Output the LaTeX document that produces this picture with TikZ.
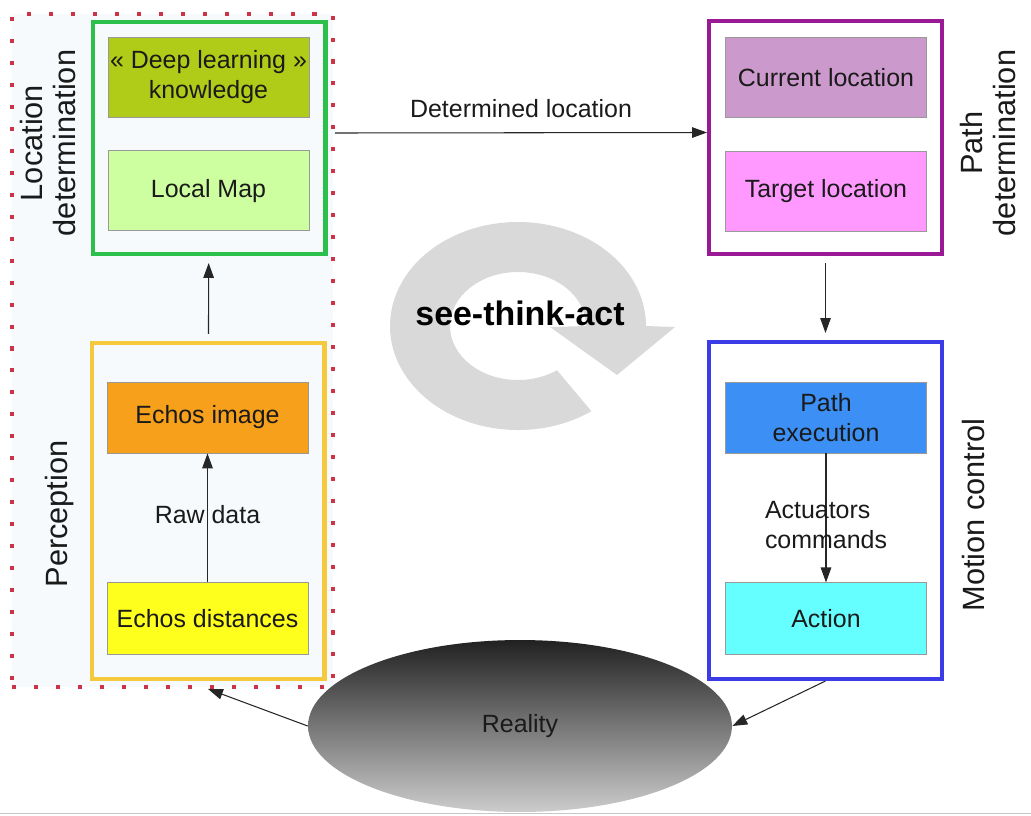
\documentclass[tikz,border=0pt]{standalone}
\usepackage{fontspec}
\setmainfont{Liberation Sans}
\usepackage{xcolor}
\usepackage{tikz}
\usetikzlibrary{arrows.meta,positioning,shapes.geometric}
\definecolor{stcDotRed}{HTML}{CC3347}
\definecolor{stcGroup}{HTML}{F6FAFD}
\definecolor{stcGreen}{HTML}{2BBF4B}
\definecolor{stcYellow}{HTML}{F5C93E}
\definecolor{stcPurple}{HTML}{991A94}
\definecolor{stcBlue}{HTML}{3C3CE6}
\definecolor{stcLime}{HTML}{B0CC18}
\definecolor{stcMint}{HTML}{CDFFA0}
\definecolor{stcMauve}{HTML}{CC99CC}
\definecolor{stcPink}{HTML}{FF99FF}
\definecolor{stcOrange}{HTML}{F7A01C}
\definecolor{stcLemon}{HTML}{FFFF1E}
\definecolor{stcSky}{HTML}{3B8FF5}
\definecolor{stcCyan}{HTML}{66FFFF}
\definecolor{stcRing}{HTML}{D9D9D9}
\definecolor{stcInk}{HTML}{1A1A1A}
\newcommand{\boxFont}{\fontsize{14.2}{17}\selectfont}
\newcommand{\sideFont}{\fontsize{17.5}{18.5}\selectfont}

\begin{document}
\begin{tikzpicture}[
  x=0.02cm, y=-0.02cm,
  every node/.style={text=stcInk},
  frame/.style={draw, line width=2.3pt, inner sep=0pt, minimum width=4.66cm},
  box/.style={draw=black!40, line width=0.5pt, inner sep=0pt,
              minimum width=4.02cm, align=center, font=\boxFont},
  lbl/.style={font=\boxFont, align=center},
  sideLbl/.style={rotate=90, align=center, font=\sideFont},
  flow/.style={draw=black!85, line width=0.6pt,
               -{Triangle[length=8.5pt,width=6pt]}},
]
\useasboundingbox (0,0) rectangle (1031,815);
\draw[black!22, line width=1pt] (0,813.5) -- (1031,813.5);

% see / think group
\node[draw=stcDotRed, fill=stcGroup, line width=2.3pt, line cap=butt,
      dash pattern=on 2.3pt off 10.2pt,
      minimum width=6.42cm, minimum height=13.46cm] (seeGroup) at (172.5,350.5) {};

% cycle arrow
\coordinate (cycleC) at (518,326);
\fill[stcRing] (cycleC) ++(55:128 and 104)
  arc[start angle=55, end angle=360, x radius=128, y radius=104]
  -- (675,327) -- (617,375) -- (550,327) -- (586,326)
  arc[start angle=360, end angle=55, x radius=68, y radius=54] -- cycle;
\node[font=\fontsize{19.3}{21}\selectfont\bfseries, text=black] (cycleLbl) at (520,313) {see-think-act};

% frames
\node[frame, draw=stcGreen, fill=stcGroup, minimum height=4.64cm] (locFrame) at (209,138) {};
\node[frame, draw=stcYellow, fill=stcGroup, minimum height=6.72cm] (perFrame) at (208,511) {};
\node[frame, draw=stcPurple, fill=white, minimum height=4.66cm] (pathFrame) at (825.5,137.5) {};
\node[frame, draw=stcBlue, fill=white, minimum height=6.74cm] (motFrame) at (825.5,510.5) {};

% location determination
\node[box, fill=stcLime, minimum height=1.6cm] (deep) at (208.5,77) {« Deep learning »\\knowledge};
\node[box, fill=stcMint, minimum height=1.6cm, below=0.66cm of deep] (map) {Local Map};

% perception
\node[box, fill=stcOrange, minimum height=1.42cm] (echoImg) at (207.5,417.5) {Echos image};
\node[box, fill=stcLemon, minimum height=1.44cm, below=2.58cm of echoImg] (echoDist) {Echos distances};

% path determination
\node[box, fill=stcMauve, minimum height=1.6cm] (curLoc) at (826,77.5) {Current location};
\node[box, fill=stcPink, minimum height=1.6cm, below=0.66cm of curLoc] (tgtLoc) {Target location};

% motion control
\node[box, fill=stcSky, minimum height=1.42cm] (pathExec) at (826,417.5) {Path\\execution};
\node[box, fill=stcCyan, minimum height=1.44cm, below=2.58cm of pathExec] (action) {Action};

% reality
\node[ellipse, inner sep=0pt, minimum width=8.48cm, minimum height=3.44cm,
      top color=black!87, bottom color=black!20, font=\boxFont] (reality) at (520,726) {Reality};

% side labels
\node[sideLbl] (locLbl) at (48,143) {Location\\determination};
\node[sideLbl] (perLbl) at (60,514) {Perception};
\node[sideLbl] (pathLbl) at (988,143) {Path\\determination};
\node[sideLbl] (motLbl) at (973,515) {Motion control};

% connectors
\draw[flow] (echoDist) -- node[lbl, yshift=0.06cm] {Raw data} (echoImg);
\draw[flow, shorten <=4pt, shorten >=4pt] (perFrame) -- (locFrame);
\draw[flow] ([yshift=0.1cm]seeGroup.east |- locFrame.center) -- node[lbl, midway, yshift=0.48cm] {Determined location} ([yshift=0.1cm]pathFrame.west);
\draw[flow, shorten <=4pt, shorten >=4pt] (pathFrame) -- (motFrame);
\draw[flow] (pathExec) -- node[lbl, align=left, yshift=-0.15cm] {Actuators\\commands} (action);
\draw[flow] (motFrame.south) -- (reality.east);
\draw[flow] (reality.west) -- (perFrame.south |- seeGroup.south);
\end{tikzpicture}
\end{document}
